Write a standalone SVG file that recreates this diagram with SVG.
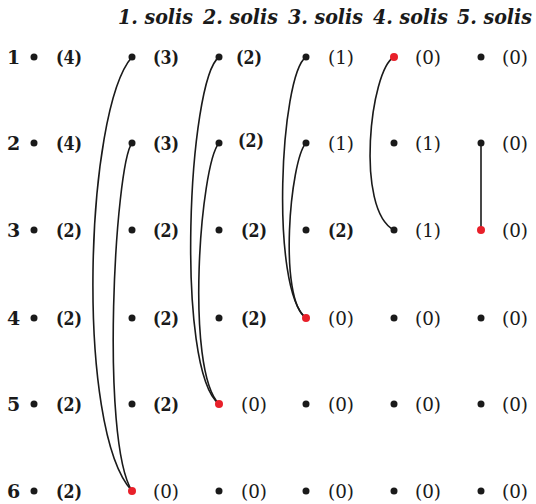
<svg xmlns="http://www.w3.org/2000/svg" width="536" height="504" viewBox="0 0 536 504">
<style>
text{font-family:"DejaVu Serif",serif;font-size:19px;fill:#1a1a1a}
.b{font-weight:bold}
.h{font-style:italic;font-weight:bold;font-size:20px}
.d{fill:#1a1a1a}
.r{fill:#e8202a}
.c{fill:none;stroke:#1a1a1a;stroke-width:1.6}
</style>
<rect width="536" height="504" fill="#fff"/>
<g id="header">
<text class="h" x="118" y="24" textLength="75" lengthAdjust="spacingAndGlyphs">1. solis</text>
<text class="h" x="203" y="24" textLength="75" lengthAdjust="spacingAndGlyphs">2. solis</text>
<text class="h" x="288" y="24" textLength="75" lengthAdjust="spacingAndGlyphs">3. solis</text>
<text class="h" x="373" y="24" textLength="75" lengthAdjust="spacingAndGlyphs">4. solis</text>
<text class="h" x="457" y="24" textLength="75" lengthAdjust="spacingAndGlyphs">5. solis</text>
</g>
<g id="connectors">
<path class="c" d="M132,57 C85,110 75,430 132,491"/>
<path class="c" d="M132,143 C115,165 100,440 132,491"/>
<path class="c" d="M219,57 C188,80 175,370 219,404"/>
<path class="c" d="M219,143 C200,165 185,370 219,404"/>
<path class="c" d="M306,57 C280,75 270,290 306,318"/>
<path class="c" d="M306,143 C290,160 278,300 306,318"/>
<path class="c" d="M394,57 C370,70 355,210 394,230"/>
<path class="c" d="M481,143 L481,230"/>
</g>
<g id="rowlabels">
<text class="b" x="7" y="64">1</text>
<text class="b" x="7" y="150">2</text>
<text class="b" x="7" y="237">3</text>
<text class="b" x="7" y="325">4</text>
<text class="b" x="7" y="411">5</text>
<text class="b" x="7" y="498">6</text>
</g>
<g id="col0">
<g id="n0-1"><circle class="d" cx="34" cy="57" r="3.5"/><text class="b" x="56" y="64" textLength="26" lengthAdjust="spacingAndGlyphs">(4)</text></g>
<g id="n0-2"><circle class="d" cx="34" cy="143" r="3.5"/><text class="b" x="56" y="150" textLength="26" lengthAdjust="spacingAndGlyphs">(4)</text></g>
<g id="n0-3"><circle class="d" cx="34" cy="230" r="3.5"/><text class="b" x="56" y="237" textLength="26" lengthAdjust="spacingAndGlyphs">(2)</text></g>
<g id="n0-4"><circle class="d" cx="34" cy="318" r="3.5"/><text class="b" x="56" y="325" textLength="26" lengthAdjust="spacingAndGlyphs">(2)</text></g>
<g id="n0-5"><circle class="d" cx="34" cy="404" r="3.5"/><text class="b" x="56" y="411" textLength="26" lengthAdjust="spacingAndGlyphs">(2)</text></g>
<g id="n0-6"><circle class="d" cx="34" cy="491" r="3.5"/><text class="b" x="56" y="498" textLength="26" lengthAdjust="spacingAndGlyphs">(2)</text></g>
</g>
<g id="col1">
<g id="n1-1"><circle class="d" cx="132" cy="57" r="3.5"/><text class="b" x="153" y="64" textLength="26" lengthAdjust="spacingAndGlyphs">(3)</text></g>
<g id="n1-2"><circle class="d" cx="132" cy="143" r="3.5"/><text class="b" x="153" y="150" textLength="26" lengthAdjust="spacingAndGlyphs">(3)</text></g>
<g id="n1-3"><circle class="d" cx="132" cy="230" r="3.5"/><text class="b" x="153" y="237" textLength="26" lengthAdjust="spacingAndGlyphs">(2)</text></g>
<g id="n1-4"><circle class="d" cx="132" cy="318" r="3.5"/><text class="b" x="153" y="325" textLength="26" lengthAdjust="spacingAndGlyphs">(2)</text></g>
<g id="n1-5"><circle class="d" cx="132" cy="404" r="3.5"/><text class="b" x="153" y="411" textLength="26" lengthAdjust="spacingAndGlyphs">(2)</text></g>
<g id="n1-6"><circle class="r" cx="132" cy="491" r="4"/><text x="153" y="498" textLength="26" lengthAdjust="spacingAndGlyphs">(0)</text></g>
</g>
<g id="col2">
<g id="n2-1"><circle class="d" cx="219" cy="57" r="3.5"/><text class="b" x="236" y="64" textLength="26" lengthAdjust="spacingAndGlyphs">(2)</text></g>
<g id="n2-2"><circle class="d" cx="219" cy="143" r="3.5"/><text class="b" x="238" y="147" textLength="26" lengthAdjust="spacingAndGlyphs">(2)</text></g>
<g id="n2-3"><circle class="d" cx="219" cy="230" r="3.5"/><text class="b" x="241" y="237" textLength="26" lengthAdjust="spacingAndGlyphs">(2)</text></g>
<g id="n2-4"><circle class="d" cx="219" cy="318" r="3.5"/><text class="b" x="241" y="325" textLength="26" lengthAdjust="spacingAndGlyphs">(2)</text></g>
<g id="n2-5"><circle class="r" cx="219" cy="404" r="4"/><text x="241" y="411" textLength="26" lengthAdjust="spacingAndGlyphs">(0)</text></g>
<g id="n2-6"><circle class="d" cx="219" cy="491" r="3.5"/><text x="241" y="498" textLength="26" lengthAdjust="spacingAndGlyphs">(0)</text></g>
</g>
<g id="col3">
<g id="n3-1"><circle class="d" cx="306" cy="57" r="3.5"/><text x="328" y="64" textLength="26" lengthAdjust="spacingAndGlyphs">(1)</text></g>
<g id="n3-2"><circle class="d" cx="306" cy="143" r="3.5"/><text x="328" y="150" textLength="26" lengthAdjust="spacingAndGlyphs">(1)</text></g>
<g id="n3-3"><circle class="d" cx="306" cy="230" r="3.5"/><text class="b" x="328" y="237" textLength="26" lengthAdjust="spacingAndGlyphs">(2)</text></g>
<g id="n3-4"><circle class="r" cx="306" cy="318" r="4"/><text x="328" y="325" textLength="26" lengthAdjust="spacingAndGlyphs">(0)</text></g>
<g id="n3-5"><circle class="d" cx="306" cy="404" r="3.5"/><text x="328" y="411" textLength="26" lengthAdjust="spacingAndGlyphs">(0)</text></g>
<g id="n3-6"><circle class="d" cx="306" cy="491" r="3.5"/><text x="328" y="498" textLength="26" lengthAdjust="spacingAndGlyphs">(0)</text></g>
</g>
<g id="col4">
<g id="n4-1"><circle class="r" cx="394" cy="57" r="4"/><text x="415" y="64" textLength="26" lengthAdjust="spacingAndGlyphs">(0)</text></g>
<g id="n4-2"><circle class="d" cx="394" cy="143" r="3.5"/><text x="415" y="150" textLength="26" lengthAdjust="spacingAndGlyphs">(1)</text></g>
<g id="n4-3"><circle class="d" cx="394" cy="230" r="3.5"/><text x="415" y="237" textLength="26" lengthAdjust="spacingAndGlyphs">(1)</text></g>
<g id="n4-4"><circle class="d" cx="394" cy="318" r="3.5"/><text x="415" y="325" textLength="26" lengthAdjust="spacingAndGlyphs">(0)</text></g>
<g id="n4-5"><circle class="d" cx="394" cy="404" r="3.5"/><text x="415" y="411" textLength="26" lengthAdjust="spacingAndGlyphs">(0)</text></g>
<g id="n4-6"><circle class="d" cx="394" cy="491" r="3.5"/><text x="415" y="498" textLength="26" lengthAdjust="spacingAndGlyphs">(0)</text></g>
</g>
<g id="col5">
<g id="n5-1"><circle class="d" cx="481" cy="57" r="3.5"/><text x="502" y="64" textLength="26" lengthAdjust="spacingAndGlyphs">(0)</text></g>
<g id="n5-2"><circle class="d" cx="481" cy="143" r="3.5"/><text x="502" y="150" textLength="26" lengthAdjust="spacingAndGlyphs">(0)</text></g>
<g id="n5-3"><circle class="r" cx="481" cy="230" r="4"/><text x="502" y="237" textLength="26" lengthAdjust="spacingAndGlyphs">(0)</text></g>
<g id="n5-4"><circle class="d" cx="481" cy="318" r="3.5"/><text x="502" y="325" textLength="26" lengthAdjust="spacingAndGlyphs">(0)</text></g>
<g id="n5-5"><circle class="d" cx="481" cy="404" r="3.5"/><text x="502" y="411" textLength="26" lengthAdjust="spacingAndGlyphs">(0)</text></g>
<g id="n5-6"><circle class="d" cx="481" cy="491" r="3.5"/><text x="502" y="498" textLength="26" lengthAdjust="spacingAndGlyphs">(0)</text></g>
</g>
</svg>
